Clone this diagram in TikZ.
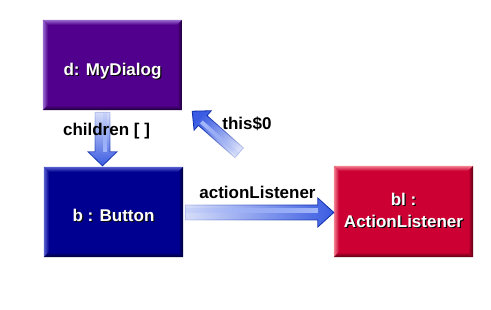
\documentclass[tikz,border=0pt]{standalone}
\usepackage{fontspec}
\setmainfont{Liberation Sans}
\usetikzlibrary{calc,fadings}

% box colours: face, lit bevel, shaded bevel
\definecolor{dlgbase}{HTML}{50008C}
\definecolor{dlglight}{HTML}{9A6CD0}
\definecolor{dlgdark}{HTML}{1C0034}
\definecolor{btnbase}{HTML}{000090}
\definecolor{btnlight}{HTML}{5A62D0}
\definecolor{btndark}{HTML}{000034}
\definecolor{lisbase}{HTML}{CC0033}
\definecolor{lislight}{HTML}{F28494}
\definecolor{lisdark}{HTML}{560010}
% reference arrows
\definecolor{arrowblue}{HTML}{3A5CE2}
\definecolor{arrowlight}{HTML}{A2B6FA}
\definecolor{arrowedge}{HTML}{0A2AAA}
\definecolor{txtshadow}{HTML}{0A0A0A}

% arrows fade out towards their tail
\tikzfading[name=tailfade, left color=transparent!80, middle color=transparent!25, right color=transparent!0]

% white caption with a dark drop shadow
\newcommand\sh[1]{\leavevmode\rlap{\kern1.2pt\raisebox{-1.2pt}{\textcolor{txtshadow}{#1}}}#1}

% bevelled rim of a box node: #1 node, #2 colour prefix
\newcommand\bevelbox[2]{%
  \shade[top color=#2light, bottom color=#2base]
    (#1.north west) -- (#1.north east) -- ($(#1.north east)+(-5,-5)$) -- ($(#1.north west)+(5,-5)$) -- cycle;
  \shade[left color=#2light, right color=#2base]
    (#1.north west) -- ($(#1.north west)+(5,-5)$) -- ($(#1.south west)+(5,5)$) -- (#1.south west) -- cycle;
  \shade[bottom color=#2dark, top color=#2base]
    (#1.south west) -- ($(#1.south west)+(5,5)$) -- ($(#1.south east)+(-5,5)$) -- (#1.south east) -- cycle;
  \shade[right color=#2dark, left color=#2base]
    (#1.south east) -- ($(#1.south east)+(-5,5)$) -- ($(#1.north east)+(-5,-5)$) -- (#1.north east) -- cycle;
}

% fat faded arrow: #1 tail, #2 tip, #3 shaft half-width, #4 head half-width,
% #5 head length, #6 direction (for the fading)
\newcommand\fadearrow[6]{%
  \coordinate (#1#2h) at ($(#2)!#5pt!(#1)$);
  \filldraw[fill=arrowblue, draw=arrowedge, line width=0.8pt, line join=miter,
            path fading=tailfade, fading angle=#6]
    ($(#1)!#3pt!90:(#2)$) -- ($(#1#2h)!#3pt!90:(#2)$) -- ($(#1#2h)!#4pt!90:(#2)$)
    -- (#2) -- ($(#1#2h)!#4pt!-90:(#2)$) -- ($(#1#2h)!#3pt!-90:(#2)$)
    -- ($(#1)!#3pt!-90:(#2)$) -- cycle;
  \fill[arrowlight, path fading=tailfade, fading angle=#6]
    ($(#1)!#3pt*0.6!90:(#2)$) -- ($(#1#2h)!#3pt*0.6!90:(#2)$)
    -- ($(#1#2h)!0pt!90:(#2)$) -- ($(#1)!0pt!90:(#2)$) -- cycle;
}

\tikzset{
  box/.style={rectangle, inner sep=0pt, minimum width=139pt},
  boxtext/.style={anchor=base, inner sep=0pt, text=white, align=center,
                  font=\bfseries\fontsize{17}{22}\selectfont},
  reflabel/.style={anchor=base, inner sep=0pt, text=black,
                   font=\bfseries\fontsize{17}{20}\selectfont},
}

\begin{document}
\begin{tikzpicture}[x=1pt,y=1pt]
  \fill[white] (0,0) rectangle (491,309);
  \useasboundingbox (0,0) rectangle (491,309);

  % objects
  \node (d)  [box, fill=dlgbase, minimum height=90pt] at (112.5,244) {};
  \node (b)  [box, fill=btnbase, minimum height=90pt] at (113.5,97) {};
  \node (bl) [box, fill=lisbase, minimum height=91pt] at (403.5,97.5) {};
  \bevelbox{d}{dlg}
  \bevelbox{b}{btn}
  \bevelbox{bl}{lis}

  \node (dtext)  [boxtext] at ($(d.center)+(0,-10)$) {\sh{d: MyDialog}};
  \node (btext)  [boxtext] at ($(b.center)+(0,-9)$) {\sh{b : Button}};
  % base anchor of a two-line node sits on its last line
  \node (bltext) [boxtext] at ($(bl.center)+(0,-15.5)$) {\sh{bl :}\\\sh{ActionListener}};

  % reference ends
  \coordinate (ct) at ($(d.south)+(-10,-2)$);
  \coordinate (ch) at ($(b.north)+(-11,1)$);
  \coordinate (pt) at ($(b.north east)+(56,14)$);
  \coordinate (ph) at ($(d.south east)+(10,-1)$);
  \coordinate (at) at ($(b.east)+(2,-0.5)$);
  \coordinate (ah) at ($(bl.west)+(0,-1)$);

  \fadearrow{ct}{ch}{7.5}{14.5}{14}{-90}
  \fadearrow{pt}{ph}{6.5}{13}{14}{138}
  \fadearrow{at}{ah}{7.5}{14.5}{16}{0}

  \node (lchildren) [reflabel] at (106.5,174) {children [ ]};
  \node (lthis)     [reflabel] at (247,180)   {this\$0};
  \node (laction)   [reflabel] at (257.5,111) {actionListener};
\end{tikzpicture}
\end{document}
